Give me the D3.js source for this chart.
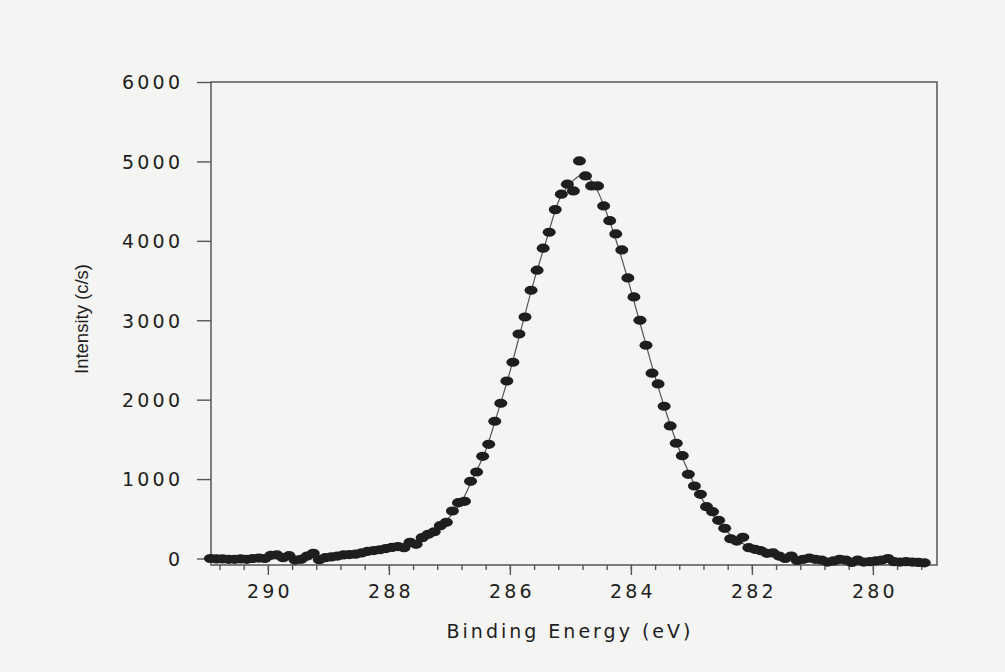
<!DOCTYPE html>
<html>
<head>
<meta charset="utf-8">
<script src="https://cdn.jsdelivr.net/npm/d3@7"></script>
<style>
  body { margin: 0; background: #f4f4f2; }
  svg { display: block; }
</style>
</head>
<body>
<svg id="xps" width="1005" height="672"></svg>
<script>
var energies = [
  290.95, 290.85, 290.75, 290.65, 290.55, 290.45, 290.35, 290.25, 290.15, 290.05,
  289.95, 289.85, 289.75, 289.65, 289.55, 289.45, 289.35, 289.25, 289.15, 289.05,
  288.95, 288.85, 288.75, 288.65, 288.55, 288.45, 288.35, 288.25, 288.15, 288.05,
  287.95, 287.85, 287.75, 287.65, 287.55, 287.45, 287.35, 287.25, 287.15, 287.05,
  286.95, 286.85, 286.75, 286.65, 286.55, 286.45, 286.35, 286.25, 286.15, 286.05,
  285.95, 285.85, 285.75, 285.65, 285.55, 285.45, 285.35, 285.25, 285.15, 285.05,
  284.95, 284.85, 284.75, 284.65, 284.55, 284.45, 284.35, 284.25, 284.15, 284.05,
  283.95, 283.85, 283.75, 283.65, 283.55, 283.45, 283.35, 283.25, 283.15, 283.05,
  282.95, 282.85, 282.75, 282.65, 282.55, 282.45, 282.35, 282.25, 282.15, 282.05,
  281.95, 281.85, 281.75, 281.65, 281.55, 281.45, 281.35, 281.25, 281.15, 281.05,
  280.95, 280.85, 280.75, 280.65, 280.55, 280.45, 280.35, 280.25, 280.15, 280.05,
  279.95, 279.85, 279.75, 279.65, 279.55, 279.45, 279.35, 279.25, 279.15
];

// measured intensity (c/s)
var intensities = [
  0, -5, -5, -10, -10, -5, -10, 0, 5, 0,
  40, 45, 10, 35, -20, -10, 30, 65, -15, 10,
  20, 30, 45, 50, 55, 70, 90, 100, 110, 125,
  140, 150, 136, 204, 179, 262, 305, 337, 413, 456,
  598, 703, 720, 972, 1089, 1287, 1438, 1728, 1955, 2235,
  2471, 2827, 3041, 3378, 3630, 3907, 4108, 4393, 4587, 4713,
  4628, 5006, 4817, 4691, 4691, 4439, 4254, 4087, 3885, 3533,
  3294, 3000, 2685, 2333, 2198, 1917, 1669, 1451, 1295, 1060,
  913, 808, 652, 589, 481, 380, 249, 220, 267, 136,
  116, 98, 65, 70, 30, 0, 30, -25, -10, 5,
  -10, -20, -45, -30, -10, -20, -50, -20, -45, -40,
  -30, -20, 0, -40, -45, -40, -45, -50, -55
];

// the thin fitted curve drawn through the points
var fitEnergies = [290.95, 290.0, 289.0, 288.6, 288.2, 288.0, 287.8, 287.6, 287.4, 287.2,
  287.0, 286.8, 286.6, 286.4, 286.2, 286.0, 285.8, 285.6, 285.4, 285.2,
  285.0, 284.8, 284.6, 284.4, 284.2, 284.0, 283.8, 283.6, 283.4, 283.2,
  283.0, 282.8, 282.6, 282.4, 282.2, 282.0, 281.8, 281.6, 281.4, 281.0, 280.0, 279.15];
var fitValues = [0, 5, 20, 45, 90, 115, 145, 195, 275, 375,
  520, 710, 1030, 1360, 1840, 2350, 2930, 3500, 4000, 4490,
  4720, 4830, 4700, 4350, 3900, 3380, 2830, 2290, 1800, 1370,
  1010, 720, 500, 330, 210, 130, 80, 45, 20, 0, -15, -25];

var yTicks = [0, 1000, 2000, 3000, 4000, 5000, 6000];
var xMajorTicks = [290, 288, 286, 284, 282, 280];

function drawSpectrum() {
  var svg = d3.select("#xps");

  var frame = { left: 211, right: 937, top: 82, bottom: 565 };

  var xScale = d3.scaleLinear()
    .domain([290.94, 278.94])
    .range([frame.left, frame.right]);

  var yScale = d3.scaleLinear()
    .domain([0, 6000])
    .range([558.5, frame.top]);

  var ink = "#555";
  var labelFont = "'DejaVu Sans', sans-serif";

  //!Frame
  svg.append("rect")
    .attr("x", frame.left)
    .attr("y", frame.top)
    .attr("width", frame.right - frame.left)
    .attr("height", frame.bottom - frame.top)
    .attr("fill", "none")
    .attr("stroke", ink)
    .attr("stroke-width", 1.5);

  //!Y axis
  var yAxis = d3.axisLeft(yScale)
    .tickValues(yTicks)
    .tickSize(14)
    .tickSizeOuter(0)
    .tickPadding(17)
    .tickFormat(d3.format("d"));

  var yG = svg.append("g")
    .attr("transform", "translate(" + frame.left + ",0)")
    .call(yAxis);
  yG.select(".domain").remove();
  yG.selectAll("line").attr("stroke", ink).attr("stroke-width", 1.4);
  yG.selectAll("text")
    .attr("fill", "#1e1e1e")
    .attr("dy", "0.36em")
    .attr("dx", "3.2")
    .style("font-family", labelFont)
    .style("font-size", "19px")
    .style("letter-spacing", "3.2px");

  //!X axis, minor ticks every 0.4 eV
  var minorTicks = d3.range(0, 30).map(i => +(279.2 + i * 0.4).toFixed(1));
  var xMinor = d3.axisBottom(xScale)
    .tickValues(minorTicks)
    .tickSize(5)
    .tickSizeOuter(0)
    .tickFormat("");
  var xMinorG = svg.append("g")
    .attr("transform", "translate(0," + frame.bottom + ")")
    .call(xMinor);
  xMinorG.select(".domain").remove();
  xMinorG.selectAll("line").attr("stroke", ink).attr("stroke-width", 1.4);

  var xMajor = d3.axisBottom(xScale)
    .tickValues(xMajorTicks)
    .tickSize(10)
    .tickSizeOuter(0)
    .tickPadding(10)
    .tickFormat(d3.format("d"));
  var xMajorG = svg.append("g")
    .attr("transform", "translate(0," + frame.bottom + ")")
    .call(xMajor);
  xMajorG.select(".domain").remove();
  xMajorG.selectAll("line").attr("stroke", ink).attr("stroke-width", 1.4);
  xMajorG.selectAll("text")
    .attr("fill", "#1e1e1e")
    .attr("dx", "1.6")
    .style("font-family", labelFont)
    .style("font-size", "19px")
    .style("letter-spacing", "3.2px");

  //!Axis titles
  svg.append("text")
    .attr("x", 570)
    .attr("y", 638)
    .attr("text-anchor", "middle")
    .attr("fill", "#1e1e1e")
    .style("font-family", labelFont)
    .style("font-size", "19px")
    .style("letter-spacing", "3px")
    .text("Binding Energy (eV)");

  svg.append("text")
    .attr("transform", "translate(88,319) rotate(-90)")
    .attr("text-anchor", "middle")
    .attr("fill", "#1e1e1e")
    .style("font-family", "'Liberation Sans', Arial, sans-serif")
    .style("font-size", "18.5px")
    .text("Intensity (c/s)");

  //!Fitted curve
  var fit = fitEnergies.map((e, i) => ({ e: e, v: fitValues[i] }));
  var line = d3.line()
    .x(d => xScale(d.e))
    .y(d => yScale(d.v))
    .curve(d3.curveMonotoneX);

  svg.append("path")
    .datum(fit)
    .attr("d", line)
    .attr("fill", "none")
    .attr("stroke", "#555")
    .attr("stroke-width", 1.2);

  //!Measured points
  var points = energies.map((e, i) => ({ e: e, v: intensities[i] }));
  svg.selectAll(".pt")
    .data(points)
    .enter()
    .append("ellipse")
    .classed("pt", true)
    .attr("cx", d => xScale(d.e))
    .attr("cy", d => yScale(d.v))
    .attr("rx", 6.5)
    .attr("ry", 4.6)
    .attr("fill", "#1e1e1e");
}

drawSpectrum();
</script>
</body>
</html>
